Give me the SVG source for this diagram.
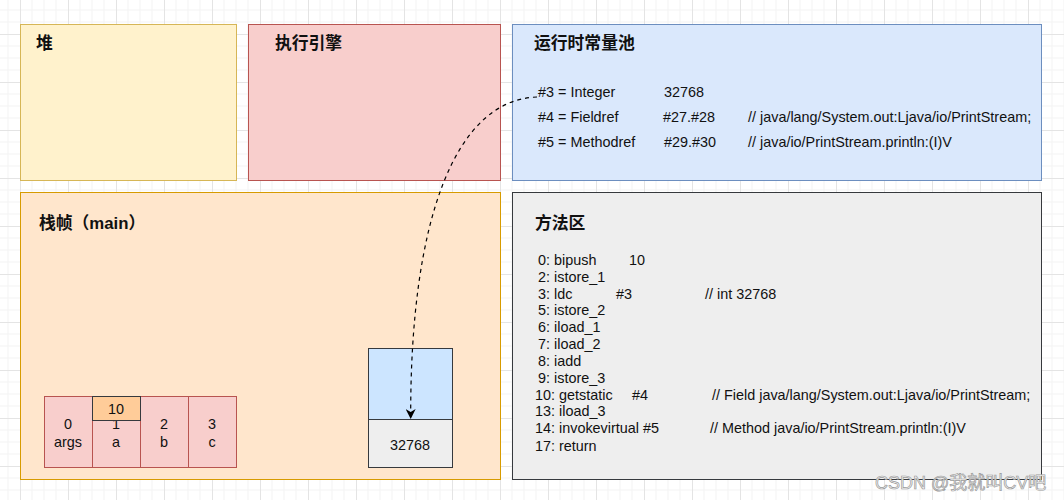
<svg xmlns="http://www.w3.org/2000/svg" width="1064" height="500" viewBox="0 0 1064 500">
<style>
.t{font-family:"Liberation Sans","Noto Sans CJK SC",Arial,sans-serif;font-size:14.4px;fill:#111}
.h{font-family:"Liberation Sans","Noto Sans CJK SC",sans-serif;font-size:16.8px;font-weight:bold;fill:#111}
.c{text-anchor:middle}
.conn{fill:none;stroke:#000;stroke-width:1.2;stroke-dasharray:4 4}
</style>
<defs>
<pattern id="grid" patternUnits="userSpaceOnUse" x="20" y="34" width="48" height="48">
<path d="M12 0V48M24 0V48M36 0V48M0 12H48M0 24H48M0 36H48" stroke="#f3f3f3" stroke-width="1" fill="none"/>
<path d="M0.5 0V48M0 0.5H48" stroke="#e4e4e4" stroke-width="1" fill="none"/>
</pattern>
<marker id="arr" markerWidth="10" markerHeight="10" refX="9" refY="5" orient="auto" markerUnits="userSpaceOnUse">
<path d="M0 0L10 5L0 10L3 5Z" fill="#000"/>
</marker>
</defs>
<rect width="1064" height="500" fill="#fff"/>
<rect width="1064" height="500" fill="url(#grid)"/>

<g id="heap">
<rect x="20.5" y="24.5" width="216" height="156" fill="#fff2cc" stroke="#d6b656"/>
<text class="h" x="36" y="49">堆</text>
</g>
<g id="engine">
<rect x="248.5" y="24.5" width="252" height="156" fill="#f8cecc" stroke="#b85450"/>
<text class="h" x="275" y="49">执行引擎</text>
</g>
<g id="pool">
<rect x="512.5" y="24.5" width="529" height="156" fill="#dae8fc" stroke="#6c8ebf"/>
<text class="h" x="534" y="49">运行时常量池</text>
<text class="t" y="96.5"><tspan x="538">#3 = Integer</tspan><tspan x="664">32768</tspan></text>
<text class="t" y="121.5"><tspan x="538">#4 = Fieldref</tspan><tspan x="663">#27.#28</tspan><tspan x="748">// java/lang/System.out:Ljava/io/PrintStream;</tspan></text>
<text class="t" y="146.5"><tspan x="538">#5 = Methodref</tspan><tspan x="664">#29.#30</tspan><tspan x="748">// java/io/PrintStream.println:(I)V</tspan></text>
</g>
<g id="frame">
<rect x="20.5" y="192.5" width="480" height="287" fill="#ffe6cc" stroke="#d79b00"/>
<text class="h" x="39" y="229">栈帧（main）</text>
</g>
<g id="locals">
<rect x="44.5" y="396.5" width="48" height="71" fill="#f8cecc" stroke="#b85450"/>
<rect x="92.5" y="396.5" width="48" height="71" fill="#f8cecc" stroke="#b85450"/>
<rect x="140.5" y="396.5" width="48" height="71" fill="#f8cecc" stroke="#b85450"/>
<rect x="188.5" y="396.5" width="48" height="71" fill="#f8cecc" stroke="#b85450"/>
<text class="t c" x="68" y="429">0</text><text class="t c" x="68" y="446.5">args</text>
<text class="t c" x="116" y="429">1</text><text class="t c" x="116" y="446.5">a</text>
<text class="t c" x="164" y="429">2</text><text class="t c" x="164" y="446.5">b</text>
<text class="t c" x="212" y="429">3</text><text class="t c" x="212" y="446.5">c</text>
</g>
<g id="value10">
<rect x="92.5" y="396.5" width="48" height="24" fill="#ffcc99" stroke="#36393d"/>
<text class="t c" x="116" y="414">10</text>
</g>
<g id="operand-stack">
<rect x="368.5" y="348.5" width="84" height="71" fill="#cce5ff" stroke="#36393d"/>
<rect x="368.5" y="419.5" width="84" height="48" fill="#eeeeee" stroke="#36393d"/>
<text class="t c" x="410" y="450">32768</text>
</g>
<g id="method-area">
<rect x="512.5" y="192.5" width="529" height="287" fill="#eeeeee" stroke="#36393d"/>
<text class="h" x="535" y="229">方法区</text>
<text class="t" y="265"><tspan x="538">0: bipush</tspan><tspan x="629">10</tspan></text>
<text class="t" y="282"><tspan x="538">2: istore_1</tspan></text>
<text class="t" y="298.5"><tspan x="538">3: ldc</tspan><tspan x="616">#3</tspan><tspan x="705">// int 32768</tspan></text>
<text class="t" y="315"><tspan x="538">5: istore_2</tspan></text>
<text class="t" y="332"><tspan x="538">6: iload_1</tspan></text>
<text class="t" y="349"><tspan x="538">7: iload_2</tspan></text>
<text class="t" y="366"><tspan x="538">8: iadd</tspan></text>
<text class="t" y="382.5"><tspan x="538">9: istore_3</tspan></text>
<text class="t" y="399.5"><tspan x="535">10: getstatic</tspan><tspan x="632">#4</tspan><tspan x="712">// Field java/lang/System.out:Ljava/io/PrintStream;</tspan></text>
<text class="t" y="416"><tspan x="535">13: iload_3</tspan></text>
<text class="t" y="433"><tspan x="535">14: invokevirtual #5</tspan><tspan x="710">// Method java/io/PrintStream.println:(I)V</tspan></text>
<text class="t" y="450.5"><tspan x="535">17: return</tspan></text>
</g>
<g id="connectors">
<path class="conn" d="M537 97C455 100 410 220 410.7 418" marker-end="url(#arr)"/>
</g>
<text x="875" y="489" font-family="Liberation Sans,'Noto Sans CJK SC',sans-serif" font-size="18" fill="#f2f2f2" stroke="#9a9a9a" stroke-width="0.7">CSDN @我就叫CV吧</text>
</svg>
